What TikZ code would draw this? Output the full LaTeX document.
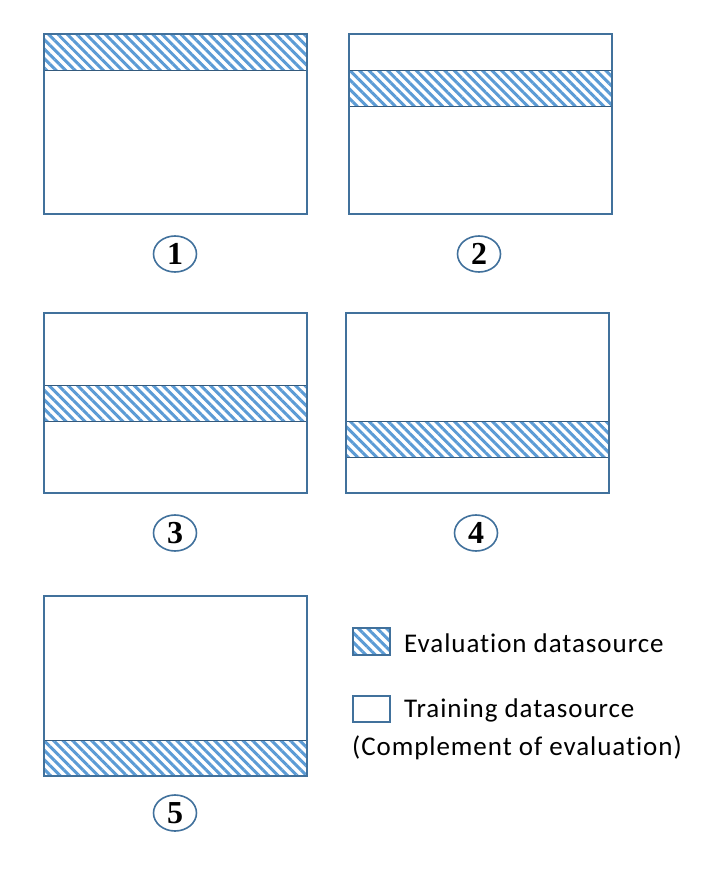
\documentclass[tikz,border=0pt]{standalone}
\usepackage{fontspec}
\setmainfont{Carlito}[LetterSpace=3.5,Ligatures={NoCommon}]
\newfontfamily\numfont{Liberation Serif}
\usetikzlibrary{patterns.meta,shapes.geometric}
\definecolor{boxblue}{HTML}{41719C}
\definecolor{hatchblue}{HTML}{5B9BD5}
\tikzset{
  fold/.style={draw=boxblue,line width=2.4pt,minimum width=263pt,minimum height=180pt,inner sep=0pt},
  evalband/.style={draw=boxblue!80!black,line width=0.8pt,pattern={Lines[angle=-45,distance=6.7pt,line width=3pt]},pattern color=hatchblue},
  foldnum/.style={ellipse,draw=boxblue,line width=1.6pt,minimum width=43pt,minimum height=36pt,inner sep=0pt,font=\numfont\bfseries\fontsize{32}{32}\selectfont},
  legendtext/.style={anchor=west,inner sep=0pt,font=\fontsize{27}{30}\selectfont}
}
\begin{document}
\begin{tikzpicture}[x=1pt,y=-1pt]
  \useasboundingbox[fill=white] (0,0) rectangle (709,886);
  % evaluation bands
  \draw[evalband] (44,34) rectangle (307,70);
  \draw[evalband] (349,70) rectangle (612,106);
  \draw[evalband] (44,385) rectangle (307,421);
  \draw[evalband] (346,421) rectangle (609,457);
  \draw[evalband] (44,740) rectangle (307,776);
  % folds
  \foreach \n/\x/\y in {1/175.5/124,2/480.5/124,3/175.5/403,4/477.5/403,5/175.5/686}
    \node[fold] (f\n) at (\x,\y) {};
  \foreach \n/\x/\y in {1/175/254,2/479/254,3/175/533,4/476/533,5/175/813}
    \node[foldnum] (n\n) at (\x,\y) {\n};
  % legend
  \draw[evalband,draw=boxblue,line width=1.4pt] (353,628) rectangle (390,655);
  \node[legendtext] (evl) at (404,643) {Evaluation datasource};
  \draw[draw=boxblue,line width=1.4pt] (353,696) rectangle (390,722);
  \node[legendtext] (trn) at (404,710) {Training datasource};
  \node[legendtext] (cmp) at (352,748) {(Complement of evaluation)};
\end{tikzpicture}
\end{document}
